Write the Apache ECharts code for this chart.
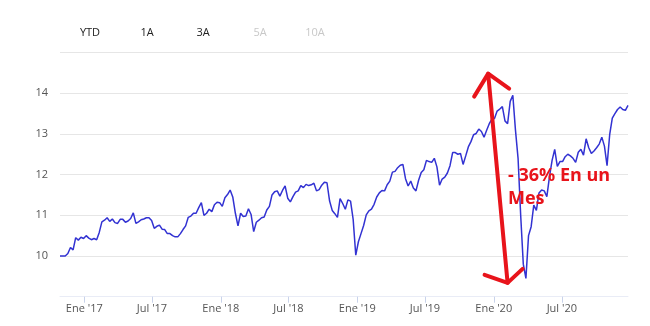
<!DOCTYPE html>
<html>
<head>
<meta charset="utf-8">
<script src="https://cdn.jsdelivr.net/npm/echarts@6/dist/echarts.min.js"></script>
<style>
  html, body { margin: 0; padding: 0; background: #ffffff; }
  #chart { width: 650px; height: 326px; }
</style>
</head>
<body>
<div id="chart"></div>
<script>
// Weekly closing prices (Friday closes), starting on the first listed week.
const firstWeek = '2016-10-28';
const closes2016 = [10.00, 10.00, 10.00, 10.06, 10.21, 10.15, 10.45, 10.39, 10.46, 10.43];
const closes2017 = [
  10.50, 10.44, 10.40, 10.43, 10.40, 10.58, 10.84, 10.88, 10.94, 10.85,
  10.91, 10.82, 10.80, 10.90, 10.90, 10.83, 10.86, 10.92, 11.06, 10.80,
  10.84, 10.89, 10.91, 10.94, 10.94, 10.87, 10.68, 10.73, 10.76, 10.66,
  10.65, 10.55, 10.55, 10.50, 10.47, 10.47, 10.55, 10.65, 10.74, 10.95,
  10.98, 11.05, 11.05, 11.19, 11.31, 11.00, 11.05, 11.15, 11.09, 11.26,
  11.32, 11.31
];
const closes2018 = [
  11.22, 11.43, 11.51, 11.62, 11.45, 11.05, 10.74, 11.05,
  10.97, 10.98, 11.16, 11.02, 10.60, 10.83, 10.88, 10.94, 10.96, 11.13,
  11.22, 11.50, 11.58, 11.60, 11.47, 11.61, 11.72, 11.42, 11.33, 11.46,
  11.57, 11.60, 11.73, 11.68, 11.76, 11.73, 11.75, 11.79, 11.60, 11.63,
  11.74, 11.81, 11.80, 11.35, 11.12, 11.04, 10.95, 11.41, 11.29, 11.15,
  11.38, 11.35, 10.90, 10.02
];
const closes2019 = [
  10.35, 10.55, 10.75, 11.01, 11.11, 11.15,
  11.27, 11.45, 11.55, 11.61, 11.60, 11.75, 11.84, 12.06, 12.08, 12.17,
  12.23, 12.25, 11.90, 11.72, 11.84, 11.67, 11.60, 11.86, 12.05, 12.12,
  12.35, 12.32, 12.30, 12.40, 12.19, 11.74, 11.89, 11.94, 12.04, 12.22,
  12.54, 12.54, 12.50, 12.52, 12.25, 12.46, 12.68, 12.81, 12.98, 13.01,
  13.12, 13.06, 12.92, 13.09, 13.25, 13.36
];
const closes2020 = [
  13.38, 13.56, 13.61, 13.67, 13.32, 13.25, 13.80, 13.95, 13.10, 12.40,
  11.00, 9.80, 9.45, 10.50, 10.72, 11.25, 11.12, 11.55, 11.62, 11.60,
  11.46, 11.95, 12.35, 12.62, 12.20, 12.32, 12.32, 12.44, 12.50, 12.46,
  12.40, 12.30, 12.55, 12.62, 12.48, 12.88, 12.66, 12.52, 12.58, 12.66,
  12.75, 12.92, 12.70, 12.22, 12.98, 13.39, 13.50, 13.60, 13.66, 13.60,
  13.58, 13.70
];

// Date axis ticks and their labels
const tickDates = ['2017-01-01', '2017-07-01', '2018-01-01', '2018-07-01',
                   '2019-01-01', '2019-07-01', '2020-01-01', '2020-07-01'];
const tickLabels = ["Ene '17", "Jul '17", "Ene '18", "Jul '18",
                    "Ene '19", "Jul '19", "Ene '20", "Jul '20"];
const priceTicks = [10, 11, 12, 13, 14];

// Range selector buttons (the last two are unavailable for this history)
const rangeButtons = ['YTD', '1A', '3A', '5A', '10A'];
const rangeEnabled = [true, true, true, false, false];

// Hand-drawn drop annotation, anchored in chart (date, price) space
const dropArrow = { top: ['2019-12-17', 14.48], bottom: ['2020-02-07', 9.34] };
const dropNote = { at: ['2020-02-08', 12.25], text: '- 36% En un\nMes' };

const DAY = 86400000;
const toTime = d => Date.parse(d + 'T00:00:00Z');
const startTime = toTime(firstWeek);
const closes = [].concat(closes2016, closes2017, closes2018, closes2019, closes2020);
const seriesData = closes.map((v, i) => [startTime + i * 7 * DAY, v]);
const tickTimes = tickDates.map(toTime);

const FONT = '"Open Sans", "Segoe UI", sans-serif';
const chart = echarts.init(document.getElementById('chart'), null, { renderer: 'canvas' });

chart.setOption({
  animation: false,
  backgroundColor: '#ffffff',
  grid: { left: 60, right: 22, top: 52.5, bottom: 29.3, containLabel: false },
  xAxis: {
    // timestamps on a linear axis, with ticks at the half-year marks
    type: 'value',
    min: seriesData[0][0],
    max: seriesData[seriesData.length - 1][0],
    axisLine: { show: true, lineStyle: { color: '#e9ecf6', width: 1 } },
    axisTick: {
      show: true, customValues: tickTimes, length: 6,
      lineStyle: { color: '#c9d3ea', width: 1 }
    },
    axisLabel: {
      customValues: tickTimes,
      formatter: v => {
        const k = tickTimes.indexOf(v);
        return k >= 0 ? tickLabels[k] : '';
      },
      color: '#555', fontSize: 11, fontFamily: FONT, margin: 7
    },
    splitLine: { show: false }
  },
  yAxis: {
    type: 'value', min: 9, max: 15, interval: 1,
    axisLine: { show: false },
    axisTick: { show: false },
    axisLabel: {
      formatter: v => (priceTicks.indexOf(v) >= 0 ? String(v) : ''),
      color: '#555', fontSize: 11, fontFamily: FONT, margin: 12,
      padding: [0, 0, 8, 0]
    },
    splitLine: { show: true, lineStyle: { color: '#e6e6e6', width: 1 } }
  },
  series: [{
    type: 'line',
    data: seriesData,
    showSymbol: false,
    symbol: 'none',
    lineStyle: { color: '#3232d2', width: 1.5 },
    z: 2
  }]
});

function buildGraphics() {
  const els = [];
  const btnX = [90, 147, 203, 260, 315];
  rangeButtons.forEach((label, i) => {
    els.push({
      type: 'text', x: btnX[i], y: 33,
      style: {
        text: label, fill: rangeEnabled[i] ? '#222' : '#c8c8c8',
        font: '11px ' + FONT, textAlign: 'center', textVerticalAlign: 'middle'
      }
    });
  });

  const toPx = p => chart.convertToPixel({ gridIndex: 0 }, [toTime(p[0]), p[1]]);
  const T = toPx(dropArrow.top);
  const B = toPx(dropArrow.bottom);
  const red = '#e8141b';
  const stroke = { stroke: red, lineWidth: 4, lineCap: 'round', lineJoin: 'round', fill: null };
  els.push({ type: 'polyline', shape: { points: [T, B] }, style: stroke, z: 10 });
  els.push({ type: 'polyline', shape: { points: [[T[0] - 14, T[1] + 23], T, [T[0] + 21, T[1] + 15]] }, style: stroke, z: 10 });
  els.push({ type: 'polyline', shape: { points: [[B[0] - 23, B[1] - 8], B, [B[0] + 15, B[1] - 14]] }, style: stroke, z: 10 });

  const N = toPx(dropNote.at);
  els.push({
    type: 'text', x: N[0], y: N[1], z: 11,
    style: {
      text: dropNote.text, fill: red, font: 'bold 18px ' + FONT,
      lineHeight: 23, textAlign: 'left', textVerticalAlign: 'top'
    }
  });
  chart.setOption({ graphic: { elements: els } });
}
buildGraphics();
</script>
</body>
</html>
